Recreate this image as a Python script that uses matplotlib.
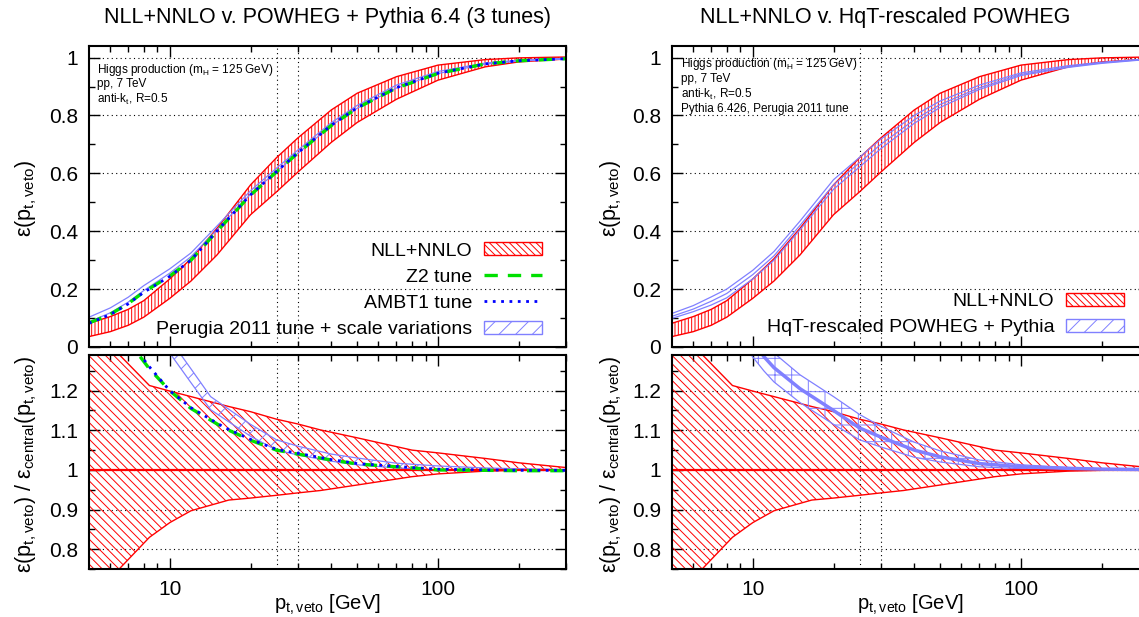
import matplotlib
matplotlib.use('Agg')
import matplotlib.pyplot as plt
from matplotlib.patches import Patch
from matplotlib.lines import Line2D
from matplotlib.ticker import NullFormatter

plt.rcParams['font.family'] = ['Liberation Sans', 'DejaVu Sans']
plt.rcParams['mathtext.default'] = 'regular'
plt.rcParams['hatch.linewidth'] = 0.7

# ---- efficiency (upper panels) ----
pt = [5, 6, 7, 8, 10, 12, 15, 20, 25, 30, 40, 50, 70, 100, 150, 200, 300]
nnlo_hi = [0.082, 0.105, 0.130, 0.160, 0.235, 0.305, 0.410, 0.560, 0.654, 0.722,
           0.819, 0.877, 0.934, 0.974, 0.993, 0.999, 1.002]
nnlo_lo = [0.036, 0.053, 0.075, 0.103, 0.168, 0.228, 0.318, 0.457, 0.536, 0.604,
           0.707, 0.776, 0.856, 0.922, 0.968, 0.985, 0.995]
z2 = [0.083, 0.113, 0.150, 0.190, 0.245, 0.300, 0.400, 0.525, 0.605, 0.670,
      0.765, 0.826, 0.895, 0.945, 0.978, 0.989, 0.996]
ambt1 = [0.082, 0.112, 0.149, 0.189, 0.244, 0.300, 0.401, 0.526, 0.606, 0.671,
         0.766, 0.827, 0.896, 0.946, 0.978, 0.989, 0.996]
perugia_lo = [0.087, 0.118, 0.155, 0.195, 0.255, 0.312, 0.405, 0.528, 0.606, 0.669,
              0.765, 0.825, 0.895, 0.945, 0.977, 0.988, 0.995]
perugia_hi = [0.103, 0.135, 0.172, 0.212, 0.270, 0.325, 0.418, 0.540, 0.618, 0.680,
              0.775, 0.835, 0.905, 0.952, 0.981, 0.991, 0.997]
hqt_lo = [0.099, 0.122, 0.145, 0.170, 0.235, 0.300, 0.405, 0.545, 0.622, 0.685,
          0.773, 0.828, 0.890, 0.938, 0.966, 0.980, 0.994]
hqt_mid = [0.106, 0.131, 0.158, 0.185, 0.250, 0.315, 0.420, 0.560, 0.637, 0.700,
           0.785, 0.838, 0.896, 0.942, 0.968, 0.982, 0.995]
hqt_hi = [0.116, 0.143, 0.173, 0.200, 0.265, 0.330, 0.435, 0.578, 0.655, 0.718,
          0.800, 0.850, 0.905, 0.947, 0.972, 0.984, 0.996]

# ---- ratio to central NLL+NNLO (lower panels) ----
pt_band = [5, 6.5, 8.4, 10, 12, 16.6, 20, 25, 30, 36.4, 50, 80, 100, 150, 200, 300]
band_hi = [1.45, 1.29, 1.213, 1.199, 1.185, 1.16, 1.147, 1.128, 1.116, 1.101,
           1.081, 1.05, 1.043, 1.029, 1.018, 1.006]
band_lo = [0.62, 0.751, 0.83, 0.867, 0.897, 0.924, 0.929, 0.936, 0.942, 0.948,
           0.962, 0.983, 0.99, 0.997, 0.999, 1.0]

pt_mc = [5, 6, 7, 7.67, 8.4, 10, 12, 15.9, 20, 25, 30, 40, 50, 80, 100, 150, 200, 300]
z2_r = [1.55, 1.43, 1.34, 1.29, 1.255, 1.2, 1.155, 1.106, 1.075, 1.05, 1.04,
        1.025, 1.015, 1.005, 1.0, 0.999, 0.998, 0.998]
ambt1_r = [1.56, 1.44, 1.345, 1.295, 1.26, 1.2, 1.157, 1.108, 1.077, 1.052, 1.042,
           1.026, 1.016, 1.006, 1.002, 1.0, 0.999, 0.999]

pt_var = [8, 10, 12, 14.2, 20, 25, 30, 40, 50, 70, 100, 150, 200, 300]
perugia_r_hi = [1.45, 1.33, 1.255, 1.185, 1.115, 1.076, 1.06, 1.04, 1.03, 1.017,
                1.01, 1.005, 1.003, 1.001]
perugia_r_lo = [1.40, 1.295, 1.22, 1.152, 1.085, 1.05, 1.038, 1.022, 1.013, 1.005,
                1.0, 0.999, 0.999, 0.998]

pt_hqt = [9, 10, 11, 12, 15, 20, 25, 30, 40, 50, 70, 100, 150, 200, 300]
hqt_r_mid = [1.37, 1.325, 1.286, 1.258, 1.205, 1.15, 1.106, 1.083, 1.05, 1.033,
             1.016, 1.008, 1.004, 1.002, 1.001]
hqt_r_hi = [1.41, 1.365, 1.325, 1.295, 1.24, 1.185, 1.14, 1.11, 1.07, 1.048,
            1.025, 1.013, 1.006, 1.003, 1.002]
hqt_r_lo = [1.33, 1.285, 1.25, 1.222, 1.17, 1.115, 1.076, 1.058, 1.032, 1.02,
            1.008, 1.003, 1.001, 1.0, 1.0]

RED = '#ff0000'
LBLUE = '#8080ff'
GREEN = '#00e000'
BLUE = '#0000ff'
DOT = (0, (1, 3))
HATCH_TOP = '|' * 5
HATCH_RATIO = '\\' * 4

W, H = 1139, 617
fig = plt.figure(figsize=(W / 100, H / 100), dpi=100)


def box(l, t, r, b):
    return [l / W, 1 - b / H, (r - l) / W, (b - t) / H]


def style(ax, top):
    ax.set_xscale('log')
    ax.set_xlim(5, 300)
    ax.set_xticks([10, 100], ['10', '100'])
    ax.set_xticks([6, 7, 8, 9, 20, 30, 40, 50, 60, 70, 80, 90, 200, 300], minor=True)
    ax.xaxis.set_minor_formatter(NullFormatter())
    if top:
        ax.set_ylim(0, 1.04)
        ax.set_yticks([0, 0.2, 0.4, 0.6, 0.8, 1.0], ['0', '0.2', '0.4', '0.6', '0.8', '1'])
        ax.set_yticks([0.1, 0.3, 0.5, 0.7, 0.9], minor=True)
    else:
        ax.set_ylim(0.75, 1.29)
        ax.set_yticks([0.8, 0.9, 1.0, 1.1, 1.2], ['0.8', '0.9', '1', '1.1', '1.2'])
        ax.set_yticks([0.75, 0.85, 0.95, 1.05, 1.15, 1.25], minor=True)
    ax.tick_params(which='both', direction='in', top=True, right=True, width=1,
                   labelsize=15, pad=8)
    ax.tick_params(which='major', length=8)
    ax.tick_params(which='minor', length=4)
    if top:
        ax.tick_params(labelbottom=False)
    for s in ax.spines.values():
        s.set_linewidth(1.5)
    ax.yaxis.grid(True, which='major', ls=DOT, color='k', lw=0.8)
    ax.axvline(25, ls=DOT, color='k', lw=0.8, zorder=1)
    ax.axvline(30, ls=DOT, color='k', lw=0.8, zorder=1)
    ax.set_axisbelow(True)


axL = fig.add_axes(box(89, 46, 566, 347))
axLr = fig.add_axes(box(89, 355, 566, 569))
axR = fig.add_axes(box(672, 46, 1149, 347))
axRr = fig.add_axes(box(672, 355, 1149, 569))
for a, t in [(axL, True), (axLr, False), (axR, True), (axRr, False)]:
    style(a, t)

# left top
axL.fill_between(pt, nnlo_lo, nnlo_hi, facecolor='none', edgecolor=RED, hatch=HATCH_TOP, lw=1)
axL.fill_between(pt, perugia_lo, perugia_hi, facecolor='none', edgecolor=LBLUE, lw=0.9)
axL.plot(pt, z2, color=GREEN, lw=2.4, dashes=(4, 3))
axL.plot(pt, ambt1, color=BLUE, lw=2.0, dashes=(1, 2))

# left ratio
axLr.fill_between(pt_band, band_lo, band_hi, facecolor='none', edgecolor=RED, hatch=HATCH_RATIO, lw=1)
axLr.axhline(1.0, color=RED, lw=1.6)
axLr.fill_between(pt_var, perugia_r_lo, perugia_r_hi, facecolor='none', edgecolor=LBLUE, hatch='//', lw=0.9)
axLr.plot(pt_mc, z2_r, color=GREEN, lw=2.4, dashes=(4, 3))
axLr.plot(pt_mc, ambt1_r, color=BLUE, lw=2.0, dashes=(1, 2))

# right top
axR.fill_between(pt, nnlo_lo, nnlo_hi, facecolor='none', edgecolor=RED, hatch=HATCH_TOP, lw=1)
axR.fill_between(pt, hqt_lo, hqt_hi, facecolor='none', edgecolor=LBLUE, lw=0.9)
axR.plot(pt, hqt_mid, color=LBLUE, lw=0.9)

# right ratio
axRr.fill_between(pt_band, band_lo, band_hi, facecolor='none', edgecolor=RED, hatch=HATCH_RATIO, lw=1)
axRr.axhline(1.0, color=RED, lw=1.6)
axRr.fill_between(pt_hqt, hqt_r_lo, hqt_r_hi, facecolor='none', edgecolor=LBLUE, hatch='+', lw=0.9)
axRr.plot(pt_hqt, hqt_r_mid, color=LBLUE, lw=2.5)

# legends
h_nnlo = Patch(facecolor='white', edgecolor=RED, hatch='\\' * 5, lw=1)
h_z2 = Line2D([], [], color=GREEN, lw=2.4, dashes=(4, 3))
h_ambt1 = Line2D([], [], color=BLUE, lw=2.0, dashes=(1, 2))
h_per = Patch(facecolor='white', edgecolor=LBLUE, hatch='//', lw=1)
leg_kw = dict(loc='lower right', frameon=False, markerfirst=False, fontsize=14,
              handlelength=3.0, handleheight=0.65, handletextpad=0.6,
              labelspacing=0.45, borderpad=0, borderaxespad=0)
axL.legend([h_nnlo, h_z2, h_ambt1, h_per],
           ['NLL+NNLO', 'Z2 tune', 'AMBT1 tune', 'Perugia 2011 tune + scale variations'],
           bbox_to_anchor=(0.95, 0.03), **leg_kw)
axR.legend([h_nnlo, h_per], ['NLL+NNLO', 'HqT-rescaled POWHEG + Pythia'],
           bbox_to_anchor=(0.948, 0.035), **leg_kw)

# labels
def ftext(x, y, s, **kw):
    fig.text(x / W, 1 - y / H, s, **kw)

ftext(327, 18, 'NLL+NNLO v. POWHEG + Pythia 6.4 (3 tunes)', ha='center', va='center', fontsize=15.5)
ftext(885, 18, 'NLL+NNLO v. HqT-rescaled POWHEG', ha='center', va='center', fontsize=15.5)

ylab_top = r'ε(p$_{t,veto}$)'
ylab_bot = r'ε(p$_{t,veto}$) / ε$_{central}$(p$_{t,veto}$)'
xlab = r'p$_{t,veto}$ [GeV]'
for x0, xc in [(26, 327), (611, 910)]:
    ftext(x0, 198, ylab_top, rotation=90, ha='center', va='center', fontsize=15.5)
    ftext(x0, 464, ylab_bot, rotation=90, ha='center', va='center', fontsize=15.5)
    ftext(xc, 605, xlab, ha='center', va='center', fontsize=14.5)

info = ['Higgs production (m$_H$ = 125 GeV)', 'pp, 7 TeV', 'anti-k$_t$, R=0.5']
for i, s in enumerate(info):
    ftext(97, 70 + 14.5 * i, s, ha='left', va='center', fontsize=8.5)
for i, s in enumerate(info + ['Pythia 6.426, Perugia 2011 tune']):
    ftext(681, 64 + 15 * i, s, ha='left', va='center', fontsize=8.5)

fig.savefig('out.png', dpi=100)
